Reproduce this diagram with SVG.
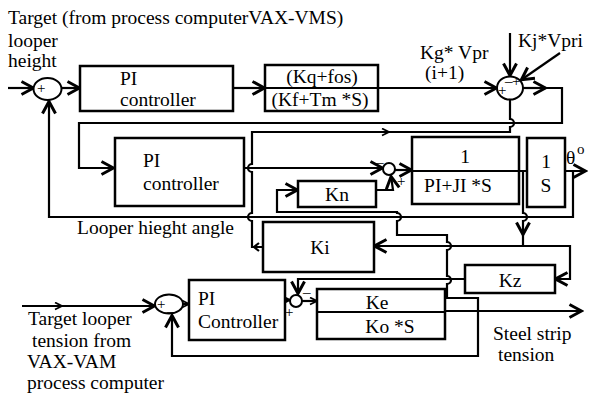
<svg xmlns="http://www.w3.org/2000/svg" width="589" height="395" viewBox="0 0 589 395" font-family="'Liberation Serif', 'DejaVu Serif', serif">
<style>
text{font-family:'Liberation Serif','DejaVu Serif',serif;font-size:19.5px;fill:#000}
.s{font-size:15px}
.b{fill:#fff;stroke:#000;stroke-width:2.5}
.c{fill:#fff;stroke:#000;stroke-width:2}
.l{fill:none;stroke:#000;stroke-width:2.2}
.d{stroke:#000;stroke-width:2}
.m{text-anchor:middle}
</style>
<defs>
<marker id="a" viewBox="0 0 16 16" refX="14.5" refY="8" markerWidth="16" markerHeight="16" orient="auto" markerUnits="userSpaceOnUse"><path d="M2,1.5 L14,8 L2,14.5" fill="none" stroke="#000" stroke-width="3"/></marker>
<marker id="sm" viewBox="0 0 9 9" refX="8" refY="4.5" markerWidth="9" markerHeight="9" orient="auto" markerUnits="userSpaceOnUse"><path d="M1,1 L8,4.5 L1,8" fill="none" stroke="#000" stroke-width="1.8"/></marker>
</defs>
<rect width="589" height="395" fill="#fff"/>
<g id="labels">
<text x="8" y="24">Target (from process computerVAX-VMS)</text>
<text x="8" y="47">looper</text>
<text x="8" y="67">height</text>
<text x="420" y="59">Kg* Vpr</text>
<text x="425" y="79">(i+1)</text>
<text x="518" y="47">Kj*Vpri</text>
<text x="77" y="234">Looper hieght angle</text>
<text x="566" y="164">θ</text>
<text x="577" y="154" class="s">o</text>
<text x="28" y="325">Target looper</text>
<text x="32" y="347">tension from</text>
<text x="27" y="368">VAX-VAM</text>
<text x="27" y="389">process computer</text>
<text x="493" y="340">Steel strip</text>
<text x="498" y="361">tension</text>
</g>
<g id="connectors">
<path class="l" d="M8,88 L34,88" marker-end="url(#a)"/>
<path class="l" d="M62,88 L80,88" marker-end="url(#a)"/>
<path class="l" d="M233,88 L265,88" marker-end="url(#a)"/>
<path class="l" d="M378,88 L497,88" marker-end="url(#a)"/>
<path class="l" d="M510,33 L510,76" marker-end="url(#a)"/>
<path class="l" d="M560,53 L521,80" marker-end="url(#a)"/>
<path class="l" d="M523,88 L546,88" marker-end="url(#a)"/>
<path class="l" d="M540,88 L562,88 L562,123 L79,123 L79,168 L114,168" marker-end="url(#a)"/>
<path class="l" d="M263,247 L252,247 L252,221 A4,4 0 0 1 252,213 L252,172 A4,4 0 0 1 252,164 L252,132 L510,132 L510,127 A4,4 0 0 0 510,119 L510,99"/>
<path class="l" d="M252,132 L389,132" marker-end="url(#sm)"/>
<path class="l" d="M259,243 L254,247 L259,251"/>
<path class="l" d="M244,168 L383,168" marker-end="url(#a)"/>
<path class="l" d="M395,170 L412,170" marker-end="url(#a)"/>
<path class="l" d="M376,190 L393,190 L391,176" marker-end="url(#a)"/>
<path class="l" d="M447,298 L447,284 A4,4 0 0 0 447,276 L447,250 A4,4 0 0 0 447,242 L447,235 L397,235 L397,221 A4,4 0 0 0 397,213 L397,212 L277,212 L277,190 L298,190" marker-end="url(#a)"/>
<path class="l" d="M519,171 L586,171" marker-end="url(#a)"/>
<path class="l" d="M523,171 L523,213 A4,4 0 0 1 523,221 L523,235" marker-end="url(#a)"/>
<path class="l" d="M523,230 L523,246 L374,246" marker-end="url(#a)"/>
<path class="l" d="M523,246 L570,246 L570,279 L555,279" marker-end="url(#a)"/>
<path class="l" d="M573,171 L573,217 L49,217 L49,101" marker-end="url(#a)"/>
<path class="l" d="M465,279 L298,279 L298,294" marker-end="url(#a)"/>
<path class="l" d="M22,306 L62,306" marker-end="url(#sm)"/>
<path class="l" d="M58,306 L155,306" marker-end="url(#a)"/>
<path class="l" d="M183,304 L189,304" marker-end="url(#sm)"/>
<path class="l" d="M285,300 L290,300" marker-end="url(#sm)"/>
<path class="l" d="M302,301 L317,301" marker-end="url(#sm)"/>
<path class="l" d="M445,311 L582,311" marker-end="url(#a)"/>
<path class="l" d="M445,298 L478,298 L478,356 L172,356 L172,315" marker-end="url(#a)"/>
</g>
<g id="sum1"><ellipse class="c" cx="47.5" cy="89" rx="14" ry="11"/><text class="s" x="37" y="93">+</text><text class="s" x="45" y="98">_</text></g>
<g id="pi1"><rect class="b" x="80" y="66" width="153" height="45"/><text x="120" y="85">PI</text><text x="120" y="106">controller</text></g>
<g id="plant1"><rect class="b" x="265" y="65" width="113" height="46"/><line class="d" x1="265" y1="88" x2="378" y2="88"/><text class="m" x="322" y="83">(Kq+fos)</text><text class="m" x="320" y="106">(Kf+Tm *S)</text></g>
<g id="sum2"><ellipse class="c" cx="510" cy="88" rx="13" ry="11.5"/><text class="s" x="505" y="81">_</text><text class="s" x="512" y="86">+</text><text class="s" x="498" y="95">+</text><text class="s" x="505" y="98">_</text></g>
<g id="pi2"><rect class="b" x="115" y="138" width="129" height="68"/><text x="143" y="167">PI</text><text x="143" y="190">controller</text></g>
<g id="sum3"><circle class="c" cx="389" cy="169" r="6"/><text class="s" x="376" y="162">_</text><text class="s" x="397" y="186">+</text></g>
<g id="dyn"><rect class="b" x="412" y="137" width="107" height="67"/><line class="d" x1="412" y1="171" x2="519" y2="171"/><text class="m" x="465" y="163">1</text><text class="m" x="458" y="192">PI+JI *S</text></g>
<g id="integ"><rect class="b" x="527" y="138" width="38" height="69"/><text class="m" x="546" y="168">1</text><text class="m" x="546" y="192">S</text></g>
<g id="kn"><rect class="b" x="298" y="181" width="78" height="26"/><text class="m" x="337" y="201">Kn</text></g>
<g id="ki"><rect class="b" x="263" y="222" width="111" height="50"/><text class="m" x="320" y="254">Ki</text></g>
<g id="kz"><rect class="b" x="465" y="265" width="90" height="28"/><text class="m" x="510" y="287">Kz</text></g>
<g id="sum4"><circle class="c" cx="296" cy="301" r="6"/><text class="s" x="303" y="292">_</text><text class="s" x="285" y="317">+</text></g>
<g id="tension"><rect class="b" x="317" y="289" width="128" height="50"/><line class="d" x1="317" y1="312" x2="445" y2="312"/><text class="m" x="377" y="309">Ke</text><text class="m" x="390" y="333">Ko *S</text></g>
<g id="sum5"><ellipse class="c" cx="169" cy="304" rx="14" ry="9.5"/><text class="s" x="157" y="309">+</text><text class="s" x="167" y="311">_</text></g>
<g id="pi3"><rect class="b" x="189" y="280" width="96" height="60"/><text x="198" y="305">PI</text><text x="198" y="328">Controller</text></g>
</svg>
